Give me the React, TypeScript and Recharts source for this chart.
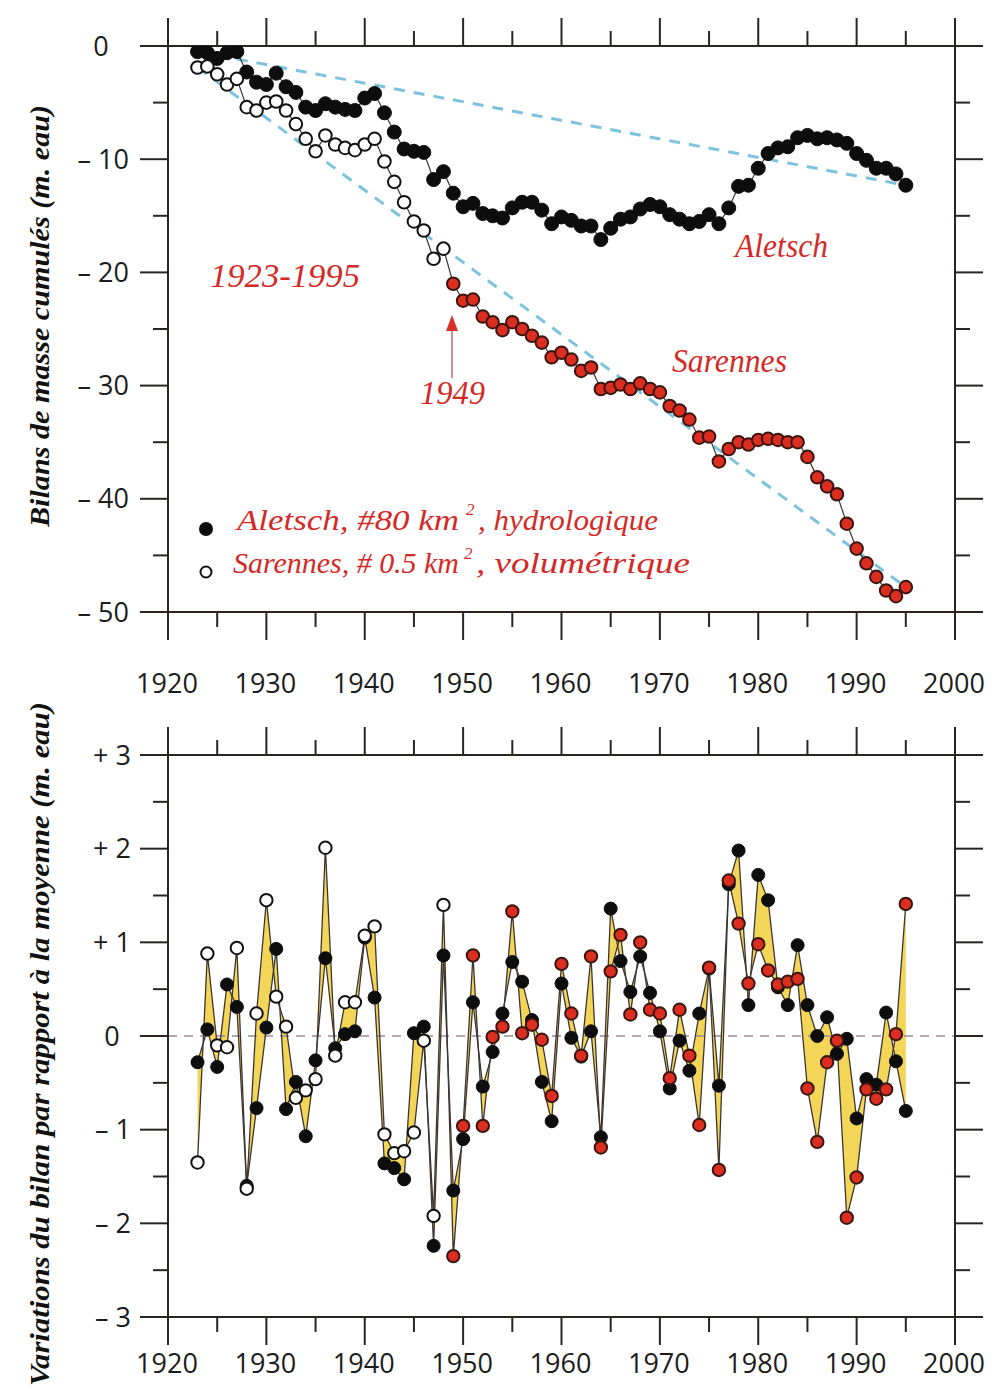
import { ComposedChart, Line, Area, XAxis, YAxis, ReferenceLine } from "recharts";

// ---------- data ----------

const years = [
  1923, 1924, 1925, 1926, 1927, 1928, 1929, 1930, 1931, 1932,
  1933, 1934, 1935, 1936, 1937, 1938, 1939, 1940, 1941, 1942,
  1943, 1944, 1945, 1946, 1947, 1948, 1949, 1950, 1951, 1952,
  1953, 1954, 1955, 1956, 1957, 1958, 1959, 1960, 1961, 1962,
  1963, 1964, 1965, 1966, 1967, 1968, 1969, 1970, 1971, 1972,
  1973, 1974, 1975, 1976, 1977, 1978, 1979, 1980, 1981, 1982,
  1983, 1984, 1985, 1986, 1987, 1988, 1989, 1990, 1991, 1992,
  1993, 1994, 1995,
];

// cumulative mass balance (m. eau)
const aletschCum = [
  -0.5, -0.6, -1.1, -0.6, -0.5, -2.3, -3.2, -3.4, -2.4, -3.6,
  -4.1, -5.4, -5.7, -5.1, -5.4, -5.6, -5.7, -4.6, -4.2, -5.9,
  -7.6, -9.1, -9.3, -9.4, -11.8, -11.1, -13.0, -14.2, -13.9, -14.8,
  -15.0, -15.2, -14.3, -13.8, -13.8, -14.5, -15.7, -15.1, -15.4, -15.9,
  -15.9, -17.1, -16.1, -15.3, -15.1, -14.4, -14.0, -14.2, -14.9, -15.3,
  -15.7, -15.5, -14.9, -15.7, -14.3, -12.4, -12.3, -10.8, -9.5, -9.0,
  -8.9, -8.1, -7.9, -8.2, -8.1, -8.3, -8.6, -9.5, -10.1, -10.8,
  -10.8, -11.3, -12.3,
];

const sarennesCum = [
  -1.9, -1.8, -2.5, -3.4, -2.9, -5.4, -5.7, -5.0, -4.9, -5.7,
  -6.9, -8.2, -9.3, -7.9, -8.7, -9.0, -9.2, -8.7, -8.2, -10.2,
  -12.0, -13.8, -15.5, -16.3, -18.8, -17.9, -21.0, -22.5, -22.4, -23.9,
  -24.4, -25.1, -24.4, -25.0, -25.6, -26.2, -27.5, -27.1, -27.7, -28.7,
  -28.4, -30.3, -30.2, -29.9, -30.3, -29.8, -30.3, -30.6, -31.8, -32.2,
  -33.0, -34.6, -34.5, -36.7, -35.6, -35.0, -35.2, -34.8, -34.7, -34.8,
  -35.0, -35.0, -36.3, -38.1, -38.9, -39.6, -42.2, -44.4, -45.7, -46.9,
  -48.1, -48.6, -47.8,
];

// trend segments (first / last year)
const trendYears = [1923, 1995];
const aletschTrend = [-0.5, -12.3];
const sarennesTrend = [-1.9, -47.8];

// yearly balance relative to the mean (m. eau)
const aletschDev = [
  -0.28, 0.07, -0.33, 0.55, 0.31, -1.6, -0.77, 0.09, 0.93, -0.78,
  -0.49, -1.07, -0.26, 0.83, -0.13, 0.02, 0.05, 1.05, 0.41, -1.36,
  -1.41, -1.53, 0.03, 0.1, -2.24, 0.86, -1.65, -1.1, 0.36, -0.54,
  -0.17, 0.24, 0.79, 0.58, 0.17, -0.49, -0.91, 0.56, -0.02, -0.22,
  0.05, -1.08, 1.36, 0.8, 0.47, 0.85, 0.46, 0.05, -0.56, -0.05,
  -0.37, 0.24, 0.72, -0.53, 1.62, 1.98, 0.33, 1.72, 1.45, 0.52,
  0.33, 0.97, 0.33, 0.0, 0.2, -0.19, -0.03, -0.88, -0.46, -0.52,
  0.25, -0.27, -0.8,
];

const sarennesDev = [
  -1.35, 0.88, -0.1, -0.12, 0.94, -1.63, 0.24, 1.45, 0.42, 0.1,
  -0.66, -0.58, -0.46, 2.01, -0.21, 0.36, 0.36, 1.07, 1.17, -1.05,
  -1.25, -1.23, -1.03, -0.05, -1.92, 1.4, -2.35, -0.96, 0.86, -0.96,
  -0.01, 0.1, 1.33, 0.03, 0.12, -0.04, -0.64, 0.77, 0.24, -0.21,
  0.85, -1.19, 0.69, 1.08, 0.23, 1.0, 0.28, 0.24, -0.45, 0.28,
  -0.21, -0.95, 0.73, -1.43, 1.66, 1.2, 0.56, 0.98, 0.7, 0.55,
  0.58, 0.61, -0.56, -1.13, -0.28, -0.05, -1.94, -1.51, -0.57, -0.67,
  -0.57, 0.02, 1.41,
];

const yearTicks = [1920, 1925, 1930, 1935, 1940, 1945, 1950, 1955, 1960, 1965, 1970, 1975, 1980, 1985, 1990, 1995, 2000];
const cumTicks = [-50, -45, -40, -35, -30, -25, -20, -15, -10, -5, 0];
const devTicks = [-3, -2.5, -2, -1.5, -1, -0.5, 0, 0.5, 1, 1.5, 2, 2.5, 3];

const RED_FROM = 1949;

// ---------- styles ----------

const FRAME = "#2a2523";
const RED_TEXT = "#d42a26";
const RED_DOT = "#dc2e20";
const LINE_C = "#3d3533";
const TICK_FONT = "'Open Sans', 'DejaVu Sans', sans-serif";
const SCRIPT_FONT = "'Liberation Serif', 'DejaVu Serif', serif";

const topRows = years.map((y, i) => {
  const t = trendYears.indexOf(y);
  return {
    year: y,
    a: aletschCum[i],
    s: sarennesCum[i],
    ta: t >= 0 ? aletschTrend[t] : null,
    ts: t >= 0 ? sarennesTrend[t] : null,
  };
});

const botRows = years.map((y, i) => ({
  year: y,
  a: aletschDev[i],
  s: sarennesDev[i],
  band: [aletschDev[i], sarennesDev[i]],
}));

/* ---------- ticks ---------- */

function XTick(props: any) {
  const { x, y, payload, side, labelDy } = props;
  const major = payload.value % 10 === 0;
  const len = major ? 28 : 15;
  const dir = side === "top" ? -1 : 1;
  return (
    <g>
      <line x1={x} y1={y} x2={x} y2={y + dir * len} stroke={FRAME} strokeWidth={2} />
      {side === "bottom" && major ? (
        <text x={x - 1} y={y + labelDy} textAnchor="middle" fontFamily={TICK_FONT} fontSize={27} fill="#1c1c1c">
          {payload.value}
        </text>
      ) : null}
    </g>
  );
}

function YTick(props: any) {
  const { x, y, payload, side, step, endOff, zeroOff, signed } = props;
  const v = payload.value;
  const major = Math.abs(v / step - Math.round(v / step)) < 1e-6;
  const len = major ? 28 : 15;
  const dir = side === "left" ? -1 : 1;
  let label = "";
  if (v === 0) label = "0";
  else if (v < 0) label = "\u2013 " + Math.abs(v);
  else label = (signed ? "+ " : "") + v;
  return (
    <g>
      <line x1={x} y1={y} x2={x + dir * len} y2={y} stroke={FRAME} strokeWidth={2} />
      {side === "left" && major ? (
        <text
          x={v === 0 ? x - zeroOff : x - endOff}
          y={y + 9.5}
          textAnchor={v === 0 ? "middle" : "end"}
          fontFamily={TICK_FONT}
          fontSize={27}
          fill="#1c1c1c"
        >
          {label}
        </text>
      ) : null}
    </g>
  );
}

/* ---------- dots ---------- */

function aletschDot(r: number) {
  return (p: any) => (
    <circle key={`a-${p.index}`} cx={p.cx} cy={p.cy} r={r} fill="#0d0d0d" stroke="#0d0d0d" strokeWidth={1} />
  );
}

function sarennesDot(r: number) {
  return (p: any) => {
    const red = p.payload.year >= RED_FROM;
    return (
      <circle
        key={`s-${p.index}`}
        cx={p.cx}
        cy={p.cy}
        r={r}
        fill={red ? RED_DOT : "#ffffff"}
        stroke={red ? "#3a1611" : "#111"}
        strokeWidth={2}
      />
    );
  };
}

// axes have 1px of room so Recharts draws them; the margins take that pixel back
function Axes({ yDomain, yTicks, step, endOff, zeroOff, signed, labelDy }: any) {
  return [
    <XAxis
      key="xb"
      xAxisId="b"
      dataKey="year"
      type="number"
      orientation="bottom"
      domain={[1920, 2000]}
      ticks={yearTicks}
      interval={0}
      height={1}
      tickSize={0}
      tickMargin={0}
      axisLine={{ stroke: FRAME, strokeWidth: 2 }}
      tickLine={false}
      tick={(p: any) => <XTick {...p} side="bottom" labelDy={labelDy} />}
      allowDataOverflow
    />,
    <XAxis
      key="xt"
      xAxisId="t"
      dataKey="year"
      type="number"
      orientation="top"
      domain={[1920, 2000]}
      ticks={yearTicks}
      interval={0}
      height={1}
      tickSize={0}
      tickMargin={0}
      axisLine={{ stroke: FRAME, strokeWidth: 2 }}
      tickLine={false}
      tick={(p: any) => <XTick {...p} side="top" />}
      allowDataOverflow
    />,
    <YAxis
      key="yl"
      yAxisId="l"
      type="number"
      orientation="left"
      domain={yDomain}
      ticks={yTicks}
      interval={0}
      width={1}
      tickSize={0}
      tickMargin={0}
      axisLine={{ stroke: FRAME, strokeWidth: 2 }}
      tickLine={false}
      tick={(p: any) => (
        <YTick {...p} side="left" step={step} endOff={endOff} zeroOff={zeroOff} signed={signed} />
      )}
      allowDataOverflow
    />,
    <YAxis
      key="yr"
      yAxisId="r"
      type="number"
      orientation="right"
      domain={yDomain}
      ticks={yTicks}
      interval={0}
      width={1}
      tickSize={0}
      tickMargin={0}
      axisLine={{ stroke: FRAME, strokeWidth: 2 }}
      tickLine={false}
      tick={(p: any) => <YTick {...p} side="right" step={step} />}
      allowDataOverflow
    />,
  ];
}

/* ---------- charts ---------- */

function CumulativeChart() {
  return (
    <ComposedChart width={992} height={700} data={topRows} margin={{ top: 45, right: 36, bottom: 87, left: 167 }}>
      {Axes({ yDomain: [-50, 0], yTicks: cumTicks, step: 10, endOff: 39, zeroOff: 67, signed: false, labelDy: 81 })}
      {/* helper series so top/right axes have data */}
      <Line xAxisId="t" yAxisId="r" dataKey="a" stroke="none" dot={false} isAnimationActive={false} />
      <Line
        xAxisId="b"
        yAxisId="l"
        dataKey="ta"
        connectNulls
        stroke="#7ec3dd"
        strokeWidth={3}
        strokeDasharray="11 9"
        dot={false}
        isAnimationActive={false}
      />
      <Line
        xAxisId="b"
        yAxisId="l"
        dataKey="ts"
        connectNulls
        stroke="#7ec3dd"
        strokeWidth={3}
        strokeDasharray="11 9"
        dot={false}
        isAnimationActive={false}
      />
      <Line
        xAxisId="b"
        yAxisId="l"
        type="linear"
        dataKey="a"
        stroke={LINE_C}
        strokeWidth={1.2}
        dot={aletschDot(7)}
        isAnimationActive={false}
      />
      <Line
        xAxisId="b"
        yAxisId="l"
        type="linear"
        dataKey="s"
        stroke={LINE_C}
        strokeWidth={1.2}
        dot={sarennesDot(6.3)}
        isAnimationActive={false}
      />
    </ComposedChart>
  );
}

function DeviationChart() {
  return (
    <ComposedChart width={992} height={688} data={botRows} margin={{ top: 54, right: 36, bottom: 70, left: 167 }}>
      {Axes({ yDomain: [-3, 3], yTicks: devTicks, step: 1, endOff: 37, zeroOff: 56, signed: true, labelDy: 56 })}
      <Line xAxisId="t" yAxisId="r" dataKey="a" stroke="none" dot={false} isAnimationActive={false} />
      <Area
        xAxisId="b"
        yAxisId="l"
        type="linear"
        dataKey="band"
        fill="#f2d245"
        fillOpacity={0.9}
        stroke="none"
        isAnimationActive={false}
      />
      <ReferenceLine xAxisId="b" yAxisId="l" y={0} stroke="#9a8c97" strokeWidth={1.5} strokeDasharray="9 7" />
      <Line
        xAxisId="b"
        yAxisId="l"
        type="linear"
        dataKey="a"
        stroke={LINE_C}
        strokeWidth={1.3}
        dot={aletschDot(6.5)}
        isAnimationActive={false}
      />
      <Line
        xAxisId="b"
        yAxisId="l"
        type="linear"
        dataKey="s"
        stroke={LINE_C}
        strokeWidth={1.3}
        dot={sarennesDot(6.2)}
        isAnimationActive={false}
      />
    </ComposedChart>
  );
}

/* ---------- annotations ---------- */

function Annotations() {
  const title = { fontFamily: SCRIPT_FONT, fontStyle: "italic", fontWeight: 700 } as const;
  const script = { fontFamily: SCRIPT_FONT, fontStyle: "italic", fontWeight: 400 } as const;
  return (
    <svg width={992} height={1388} style={{ position: "absolute", left: 0, top: 0, pointerEvents: "none" }}>
      {/* axis titles */}
      <text
        transform="translate(49,316) rotate(-90)"
        textAnchor="middle"
        fontSize={28}
        fill="#111"
        textLength={422}
        lengthAdjust="spacingAndGlyphs"
        {...title}
      >
        Bilans de masse cumulés (m. eau)
      </text>
      <text
        transform="translate(49,1044) rotate(-90)"
        textAnchor="middle"
        fontSize={28}
        fill="#111"
        textLength={684}
        lengthAdjust="spacingAndGlyphs"
        {...title}
      >
        Variations du bilan par rapport à la moyenne (m. eau)
      </text>

      {/* top panel labels */}
      <text x={210} y={287} fontSize={33} fill={RED_TEXT} textLength={150} lengthAdjust="spacingAndGlyphs" {...script}>
        1923-1995
      </text>
      <text x={735} y={257} fontSize={33} fill={RED_TEXT} textLength={93} lengthAdjust="spacingAndGlyphs" {...script}>
        Aletsch
      </text>
      <text x={672} y={372} fontSize={33} fill={RED_TEXT} textLength={115} lengthAdjust="spacingAndGlyphs" {...script}>
        Sarennes
      </text>
      <text x={420} y={404} fontSize={33} fill={RED_TEXT} textLength={65} lengthAdjust="spacingAndGlyphs" {...script}>
        1949
      </text>
      <line x1={452} y1={378} x2={452} y2={328} stroke="#b9463a" strokeWidth={1.2} />
      <polygon points="446,331 458,331 452,315" fill="#d8312a" />

      {/* legend */}
      <circle cx={206} cy={529} r={7} fill="#0d0d0d" />
      <text y={530} fontSize={30} fill={RED_TEXT} {...script}>
        <tspan x={237} textLength={222} lengthAdjust="spacingAndGlyphs">
          Aletsch, #80 km
        </tspan>
        <tspan x={466} dy={-15} fontSize={17}>
          2
        </tspan>
        <tspan x={478} dy={15} textLength={180} lengthAdjust="spacingAndGlyphs">
          , hydrologique
        </tspan>
      </text>
      <circle cx={206} cy={572} r={5.5} fill="#fff" stroke="#111" strokeWidth={2} />
      <text y={573} fontSize={30} fill={RED_TEXT} {...script}>
        <tspan x={233} textLength={226} lengthAdjust="spacingAndGlyphs">
          Sarennes, # 0.5 km
        </tspan>
        <tspan x={464} dy={-14} fontSize={17}>
          2
        </tspan>
        <tspan x={476} dy={14} textLength={214} lengthAdjust="spacingAndGlyphs">
          , volumétrique
        </tspan>
      </text>
    </svg>
  );
}

export default function App() {
  return (
    <div style={{ position: "absolute", left: 0, top: 0, width: 992, height: 1388, background: "#fff" }}>
      <div style={{ position: "absolute", left: 0, top: 0 }}>
        <CumulativeChart />
      </div>
      <div style={{ position: "absolute", left: 0, top: 700 }}>
        <DeviationChart />
      </div>
      <Annotations />
    </div>
  );
}
